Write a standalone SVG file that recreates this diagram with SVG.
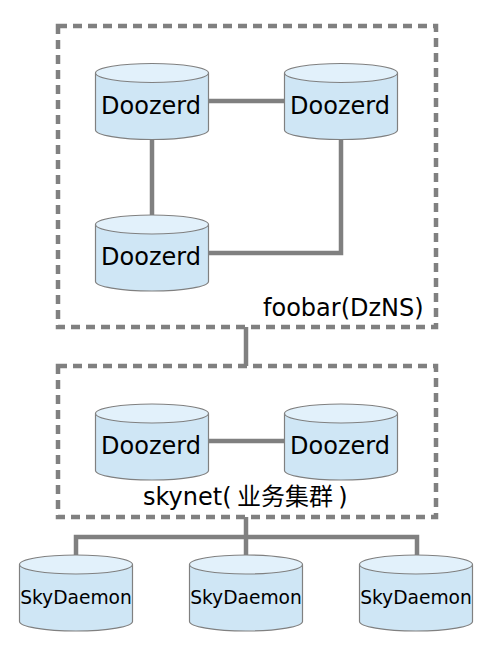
<svg xmlns="http://www.w3.org/2000/svg" width="490" height="648" viewBox="0 0 490 648">
<style>
.c{fill:none;stroke:#808080;stroke-width:4.5}
.g{fill:none;stroke:#808080;stroke-width:4.5;stroke-dasharray:9 6}
.b{fill:#cfe6f5;stroke:#808080;stroke-width:1.2}
.t{fill:#e2f1fb;stroke:#808080;stroke-width:1.2}
text{font-family:"DejaVu Sans","Noto Sans CJK SC",sans-serif;fill:#000}
.l{font-size:24px;text-anchor:middle}
.s{font-size:18.67px;text-anchor:middle}
.k{font-size:24px}
.z{font-family:"Noto Sans CJK SC","DejaVu Sans",sans-serif}
</style>
<defs>
<g id="cyl">
<path class="b" d="M0.5 9.5V66.500C0.500 71.500 25 76 57 76S113.500 71.500 113.500 66.500V9.500"/>
<ellipse class="t" cx="57" cy="9.500" rx="56.500" ry="9.500"/>
</g>
</defs>
<rect id="foobar" class="g" x="58" y="26" width="378" height="301"/>
<rect id="skynet" class="g" x="58" y="366" width="378" height="151"/>
<g id="connectors">
<path class="c" d="M208 101H284"/>
<path class="c" d="M152 139V215"/>
<path class="c" d="M341 139V253H208"/>
<path class="c" d="M246 327V366"/>
<path class="c" d="M208 441H284"/>
<path class="c" d="M246 517V555"/>
<path class="c" d="M76 555V537H417V555"/>
</g>
<g id="n1"><use href="#cyl" x="95" y="63.500"/><text class="l" x="151" y="114">Doozerd</text></g>
<g id="n2"><use href="#cyl" x="284" y="63.500"/><text class="l" x="340" y="114">Doozerd</text></g>
<g id="n3"><use href="#cyl" x="95" y="215"/><text class="l" x="151" y="265">Doozerd</text></g>
<g id="n4"><use href="#cyl" x="95" y="404"/><text class="l" x="151" y="454">Doozerd</text></g>
<g id="n5"><use href="#cyl" x="284" y="404"/><text class="l" x="340" y="454">Doozerd</text></g>
<g id="n6"><use href="#cyl" x="19" y="555"/><text class="s" x="76" y="604">SkyDaemon</text></g>
<g id="n7"><use href="#cyl" x="189" y="555"/><text class="s" x="246" y="604">SkyDaemon</text></g>
<g id="n8"><use href="#cyl" x="359" y="555"/><text class="s" x="416" y="604">SkyDaemon</text></g>
<text class="k" x="263" y="316">foobar(DzNS)</text>
<text class="k" x="143" y="505">skynet(<tspan class="z"> 业务集群 </tspan>)</text>
</svg>
